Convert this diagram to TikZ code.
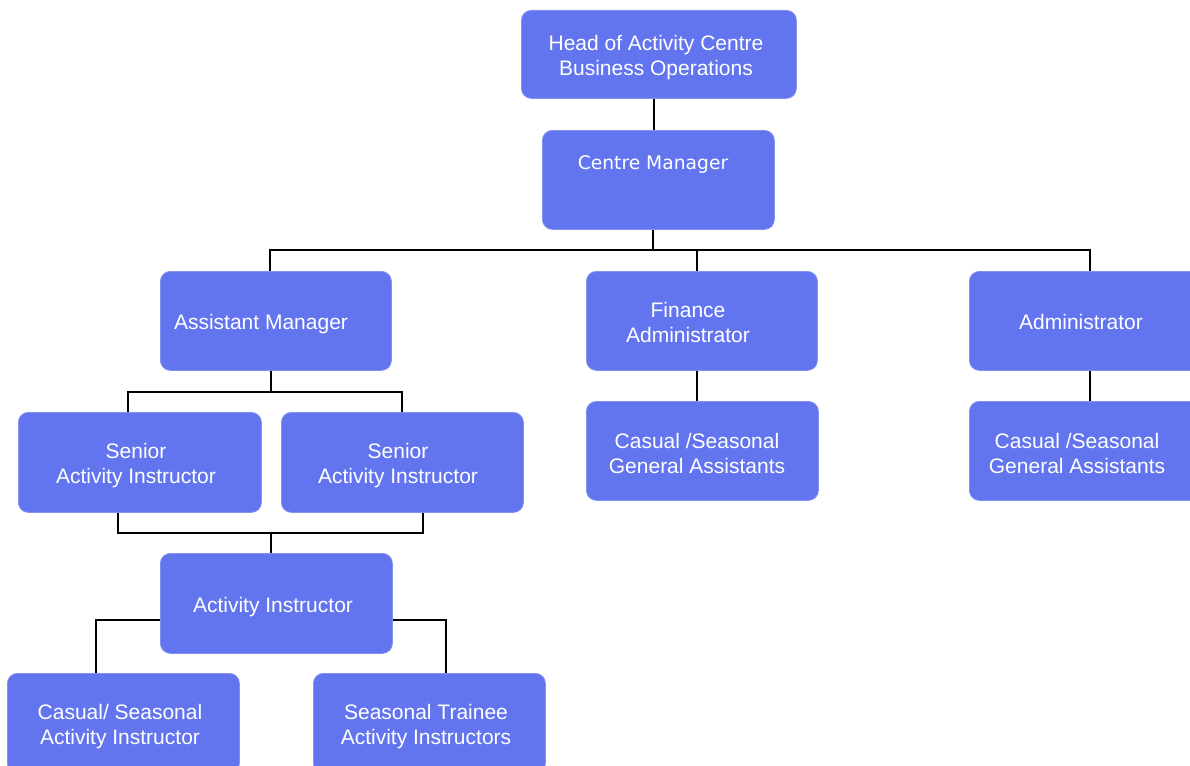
\documentclass[tikz,border=0pt]{standalone}
\usepackage{fontspec}
\setmainfont{Liberation Sans}
\newfontfamily\cmfont{DejaVu Sans}
\definecolor{boxblue}{RGB}{99,117,238}
\definecolor{boxedge}{RGB}{130,145,242}
\tikzset{
  box/.style={draw=boxedge, line width=0.8pt, fill=boxblue, rounded corners=10pt, anchor=north west, inner sep=0pt},
  lbl/.style={text=white, align=center, font=\fontsize{21}{25}\selectfont, inner sep=0pt},
  conn/.style={draw=black, line width=1.4pt}
}
\begin{document}
\begin{tikzpicture}[x=1pt,y=-1pt]
\useasboundingbox (0,0) rectangle (1190,765);
\clip (0,0) rectangle (1190,765);
\fill[white] (0,0) rectangle (1190,765);

% boxes
\node[box, minimum width=275pt, minimum height=88pt] (head) at (521,10) {};
\node[box, minimum width=232pt, minimum height=99pt] (cm) at (542,130) {};
\node[box, minimum width=231pt, minimum height=99pt] (am) at (160,271) {};
\node[box, minimum width=231pt, minimum height=99pt] (fin) at (586,271) {};
\node[box, minimum width=231pt, minimum height=99pt] (adm) at (969,271) {};
\node[box, minimum width=243pt, minimum height=100pt] (s1) at (18,412) {};
\node[box, minimum width=242pt, minimum height=100pt] (s2) at (281,412) {};
\node[box, minimum width=232pt, minimum height=99pt] (cf) at (586,401) {};
\node[box, minimum width=231pt, minimum height=99pt] (ca) at (969,401) {};
\node[box, minimum width=232pt, minimum height=100pt] (ai) at (160,553) {};
\node[box, minimum width=232pt, minimum height=100pt] (csa) at (7,673) {};
\node[box, minimum width=232pt, minimum height=100pt] (sta) at (313,673) {};

% labels
\node[lbl] (thead) at (656,58) {Head of Activity Centre\\Business Operations};
\node[lbl, font=\cmfont\fontsize{18.7}{22}\selectfont] (tcm) at (653,165) {Centre Manager};
\node[lbl] (tam) at (261,324) {Assistant Manager};
\node[lbl] (tfin) at (688,322) {Finance\\Administrator};
\node[lbl] (tadm) at (1081,322) {Administrator};
\node[lbl] (ts1) at (136,466) {Senior\\Activity Instructor};
\node[lbl] (ts2) at (398,466) {Senior\\Activity Instructor};
\node[lbl] (tcf) at (697,453) {Casual /Seasonal\\General Assistants};
\node[lbl] (tca) at (1077,453) {Casual /Seasonal\\General Assistants};
\node[lbl] (tai) at (273,607) {Activity Instructor};
\node[lbl] (tcsa) at (120,727) {Casual/ Seasonal\\Activity Instructor};
\node[lbl] (tsta) at (426,727) {Seasonal Trainee\\Activity Instructors};

% connector helper coordinates
\coordinate (b0) at (654,0);
\coordinate (b1) at (653,250);
\coordinate (b1L) at (270,250);
\coordinate (b1R) at (1090,250);
\coordinate (b1F) at (697,250);
\coordinate (b2) at (271,392);
\coordinate (b2L) at (128,392);
\coordinate (b2R) at (402,392);
\coordinate (b3) at (271,533);
\coordinate (b3L) at (118,533);
\coordinate (b3R) at (423,533);
\coordinate (b4L) at (96,620);
\coordinate (b4R) at (446,620);
\coordinate (b5) at (697,0);
\coordinate (b6) at (1090,0);

% connectors
\draw[conn] (head.south -| b0) -- (cm.north -| b0);
\draw[conn] (cm.south -| b1) -- (b1);
\draw[conn] (am.north -| b1L) -- (b1L) -- (b1R) -- (adm.north -| b1R);
\draw[conn] (b1F) -- (fin.north -| b1F);
\draw[conn] (am.south -| b2) -- (b2);
\draw[conn] (s1.north -| b2L) -- (b2L) -- (b2R) -- (s2.north -| b2R);
\draw[conn] (s1.south -| b3L) -- (b3L) -- (b3R) -- (s2.south -| b3R);
\draw[conn] (b3) -- (ai.north -| b3);
\draw[conn] (ai.west |- b4L) -- (b4L) -- (csa.north -| b4L);
\draw[conn] (ai.east |- b4R) -- (b4R) -- (sta.north -| b4R);
\draw[conn] (fin.south -| b5) -- (cf.north -| b5);
\draw[conn] (adm.south -| b6) -- (ca.north -| b6);
\end{tikzpicture}
\end{document}
